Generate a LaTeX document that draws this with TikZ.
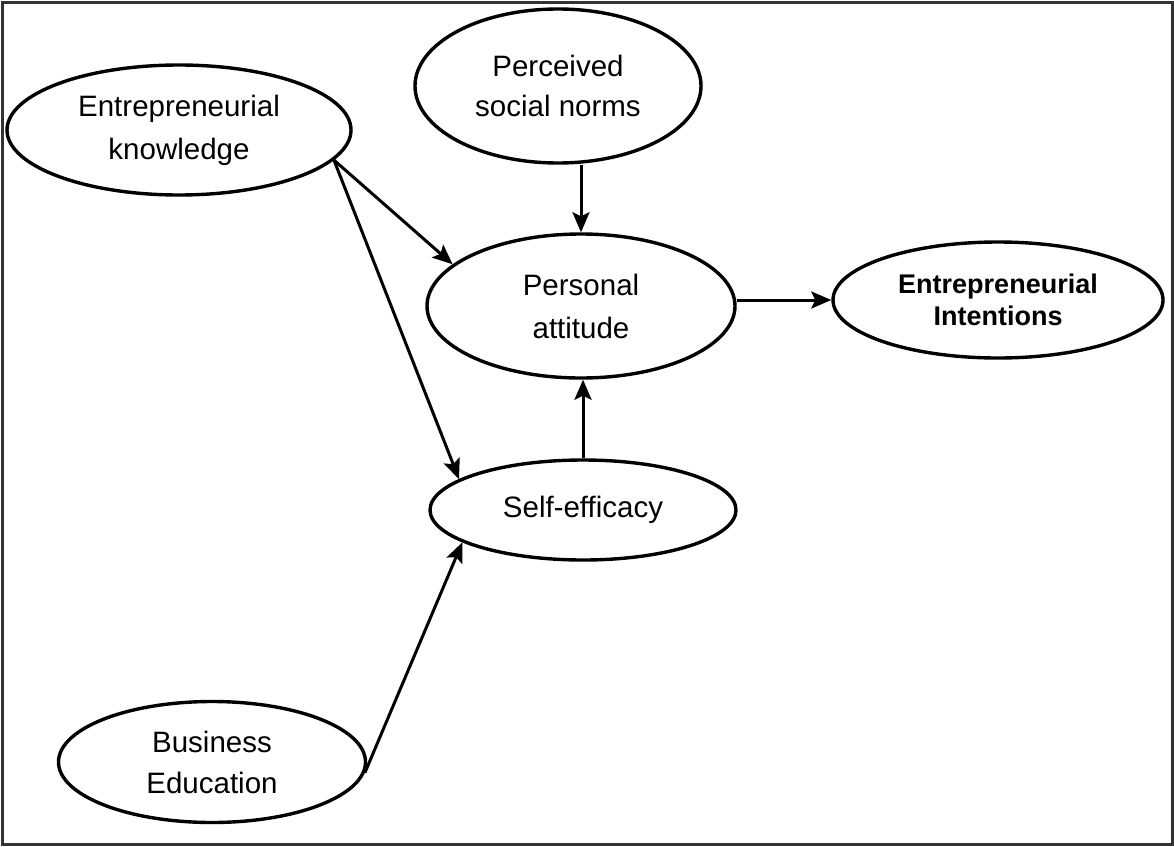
\documentclass[tikz,border=0pt]{standalone}
\usepackage{fontspec}
\setmainfont{Liberation Sans}
\usetikzlibrary{shapes.geometric,arrows.meta}
\begin{document}
\begin{tikzpicture}[x=1pt,y=-1pt,
  concept/.style={ellipse,draw=black,line width=3.4pt,inner sep=0pt,align=center,
    font=\fontsize{29.5}{43}\selectfont},
  link/.style={line width=3pt,-{Stealth[length=20pt,width=17pt,inset=4pt]}}]
  \useasboundingbox (0,0) rectangle (1174,846);
  \draw[line width=3pt,draw=black!80] (2,2) rectangle (1172,844);

  \node[concept,minimum width=344pt,minimum height=130pt] (ek) at (179,130)
    {Entrepreneurial\\knowledge};
  \node[concept,minimum width=286pt,minimum height=154pt] (psn) at (558,86)
    {Perceived\\[-3pt]social norms};
  \node[concept,minimum width=308pt,minimum height=144pt] (pa) at (581,306)
    {Personal\\attitude};
  \node[concept,minimum width=330pt,minimum height=116pt,
    font=\fontsize{27}{32}\selectfont\bfseries] (ei) at (998,300)
    {Entrepreneurial\\Intentions};
  \node[concept,minimum width=306pt,minimum height=100pt] (se) at (583,510)
    {\raisebox{4pt}{Self-efficacy}};
  \node[concept,minimum width=307pt,minimum height=121pt] (be) at (212,762)
    {Business\\[-2pt]Education};

  \draw[link] (ek.-11.8) -- (pa.162);
  \draw[link] (ek.-11.8) -- (se.166);
  \draw[link] (psn.south -| pa.north) -- (pa.north);
  \draw[link] (se.north) -- (se.north |- pa.south);
  \draw[link] (pa.east |- ei.west) -- (ei.west);
  \draw[link] (be.-4) -- (se.195.4);
\end{tikzpicture}
\end{document}
